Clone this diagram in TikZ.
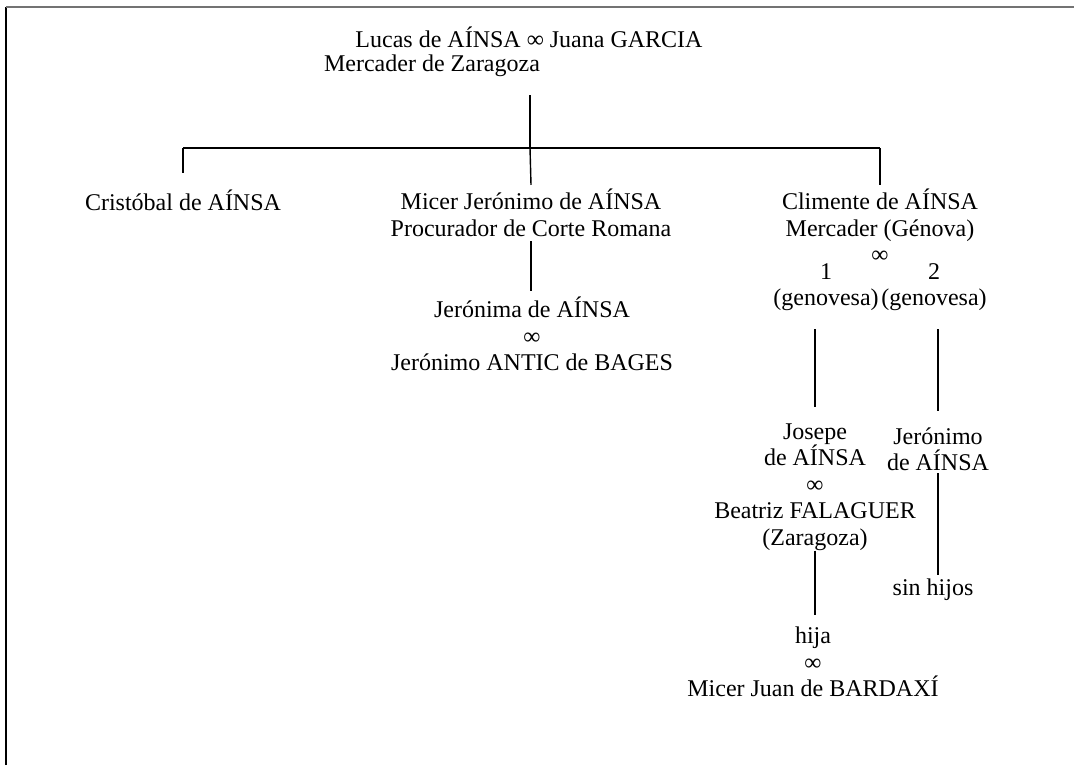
\documentclass[tikz,border=0pt]{standalone}
\usepackage{fontspec}
\setmainfont{Liberation Serif}
\usetikzlibrary{positioning,calc}
\tikzset{person/.style={align=center,inner sep=2pt,font=\fontsize{12}{13.2}\selectfont}}
\tikzset{link/.style={line width=0.7pt}}
\tikzset{frame/.style={line width=0.7pt}}

\begin{document}
\begin{tikzpicture}[x=0.5pt,y=-0.5pt]
	\useasboundingbox (0,0) rectangle (1074,765);

	%% Frame
	\draw[frame,black] (6,765) -- (6,7);
	\draw[frame,black!55] (6,7) -- (1074,7);
	%%

	\node[person] (couple) at (529,37) {Lucas de AÍNSA ∞ Juana GARCIA};
	\node[person] (lucasocc) at (432,66) {Mercader de Zaragoza};
	\coordinate (fork) at (530,148);

	\node[person] (cristobal) at (183,200) {Cristóbal de AÍNSA};
	\node[person] (jeronimo) at (531,213) {Micer Jerónimo de AÍNSA\\Procurador de Corte Romana};
	\node[person] (climente) at (880,226) {Climente de AÍNSA\\Mercader (Génova)\\∞};

	\node[person] (jeronima) at (532,334) {Jerónima de AÍNSA\\∞\\Jerónimo ANTIC de BAGES};

	\node[person] (wifeone) at (826,287) {1\\(genovesa)};
	\node[person] (wifetwo) at (934,287) {2\\(genovesa)};

	\node[person] (josepe) at (815,487) {Josepe\\de AÍNSA\\∞\\Beatriz FALAGUER\\(Zaragoza)};
	\node[person] (jeronimotwo) at (938,449) {Jerónimo\\de AÍNSA};
	\node[person] (sinhijos) at (933,590) {sin hijos};
	\node[person] (hija) at (813,662) {hija\\∞\\Micer Juan de BARDAXÍ};

	%% Lines
	\draw[link] ([yshift=-7pt]lucasocc.south -| fork) -- (fork);
	\draw[link] (cristobal |- fork) -- (climente |- fork);
	\draw[link,shorten >=6pt] (cristobal |- fork) -- (cristobal.north);
	\draw[link] (fork) -- (jeronimo.north);
	\draw[link] (climente |- fork) -- (climente.north);
	\draw[link,shorten >=1pt] (jeronimo.south) -- (jeronimo.south |- jeronima.north);
	\draw[link,shorten <=7pt,shorten >=6pt] (josepe.north |- wifeone.south) -- (josepe.north);
	\draw[link,shorten <=7pt,shorten >=6pt] (jeronimotwo.north |- wifetwo.south) -- (jeronimotwo.north);
	\draw[link,shorten <=-1pt] (jeronimotwo.south) -- (jeronimotwo.south |- sinhijos.north);
	\draw[link,shorten <=-2pt,shorten >=4pt] (josepe.south) -- (josepe.south |- hija.north);

\end{tikzpicture}
\end{document}
